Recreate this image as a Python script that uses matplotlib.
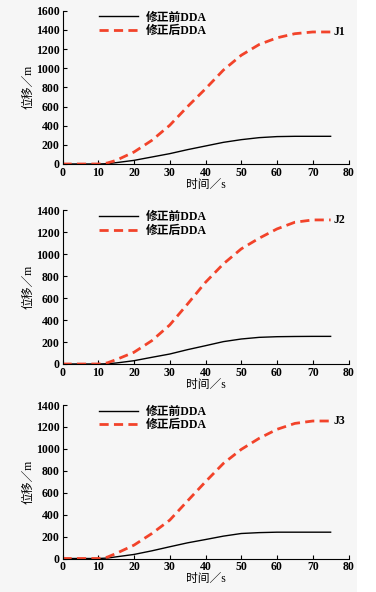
import matplotlib
matplotlib.use("Agg")
import matplotlib.pyplot as plt
from matplotlib.patches import Rectangle

plt.rcParams['font.family'] = ['Liberation Serif', 'Noto Sans CJK SC']
plt.rcParams['font.weight'] = 'bold'

t = [0, 5, 10, 12.5, 15, 20, 25, 30, 35, 40, 45, 50, 55, 60, 65, 70, 75]

# J1
j1_before = [0, 0, 0, 3, 14, 38, 73, 108, 150, 188, 226, 254, 275, 286, 289, 289, 289]
j1_after = [0, 0, 0, 10, 38, 125, 247, 404, 600, 785, 980, 1135, 1247, 1317, 1360, 1378, 1378]
# J2
j2_before = [0, 0, 0, 2, 9, 30, 61, 91, 131, 167, 204, 228, 243, 249, 251, 252, 252]
j2_after = [0, 0, 0, 10, 40, 107, 213, 356, 548, 745, 913, 1050, 1147, 1232, 1293, 1314, 1314]
# J3
j3_before = [0, 0, 0, 4, 15, 37, 70, 107, 143, 173, 204, 228, 236, 240, 240, 240, 240]
j3_after = [0, 0, 0, 12, 46, 122, 228, 350, 526, 700, 867, 995, 1096, 1178, 1232, 1254, 1254]

panels = [
    ('J1', j1_before, j1_after, 1600, 1378),
    ('J2', j2_before, j2_after, 1400, 1314),
    ('J3', j3_before, j3_after, 1400, 1254),
]

fig = plt.figure(figsize=(3.76, 5.92), dpi=100)
fig.patches.append(Rectangle((0, 0), 0.95, 1, transform=fig.transFigure,
                             facecolor='#f6f6f6', edgecolor='none', zorder=-10))

W, H = 376, 592
boxes = [(10.7, 164), (210.5, 364), (405, 558.5)]
fs = 8.5
for (name, before, after, ymax, yend), (top, bot) in zip(panels, boxes):
    ax = fig.add_axes([62.5 / W, 1 - bot / H, 286 / W, (bot - top) / H])
    ax.patch.set_alpha(0)
    ax.plot(t, before, color='black', lw=1.0, label='修正前DDA')
    ax.plot(t, after, color='#f2432a', lw=2.0, ls=(0, (3.3, 1.9)), label='修正后DDA')
    ax.set_xlim(0, 80)
    ax.set_ylim(0, ymax)
    ax.set_xticks(range(0, 81, 10))
    ax.set_yticks(range(0, ymax + 1, 200))
    ax.tick_params(direction='in', length=3, width=0.8, labelsize=fs, pad=2)
    for s in ['top', 'right']:
        ax.spines[s].set_visible(False)
    for s in ['left', 'bottom']:
        ax.spines[s].set_linewidth(0.8)
    ax.set_xlabel('时间／s', fontsize=fs, labelpad=0)
    ax.set_ylabel('位移／m', fontsize=fs, labelpad=1)
    ax.text(75.8, yend, name, fontsize=fs, va='center', ha='left')
    ax.legend(loc='upper left', bbox_to_anchor=(0.11, 1.025), frameon=False,
              fontsize=fs, handlelength=3.3, handletextpad=0.7,
              labelspacing=0.12, borderaxespad=0)

fig.savefig('out.png', dpi=100)
